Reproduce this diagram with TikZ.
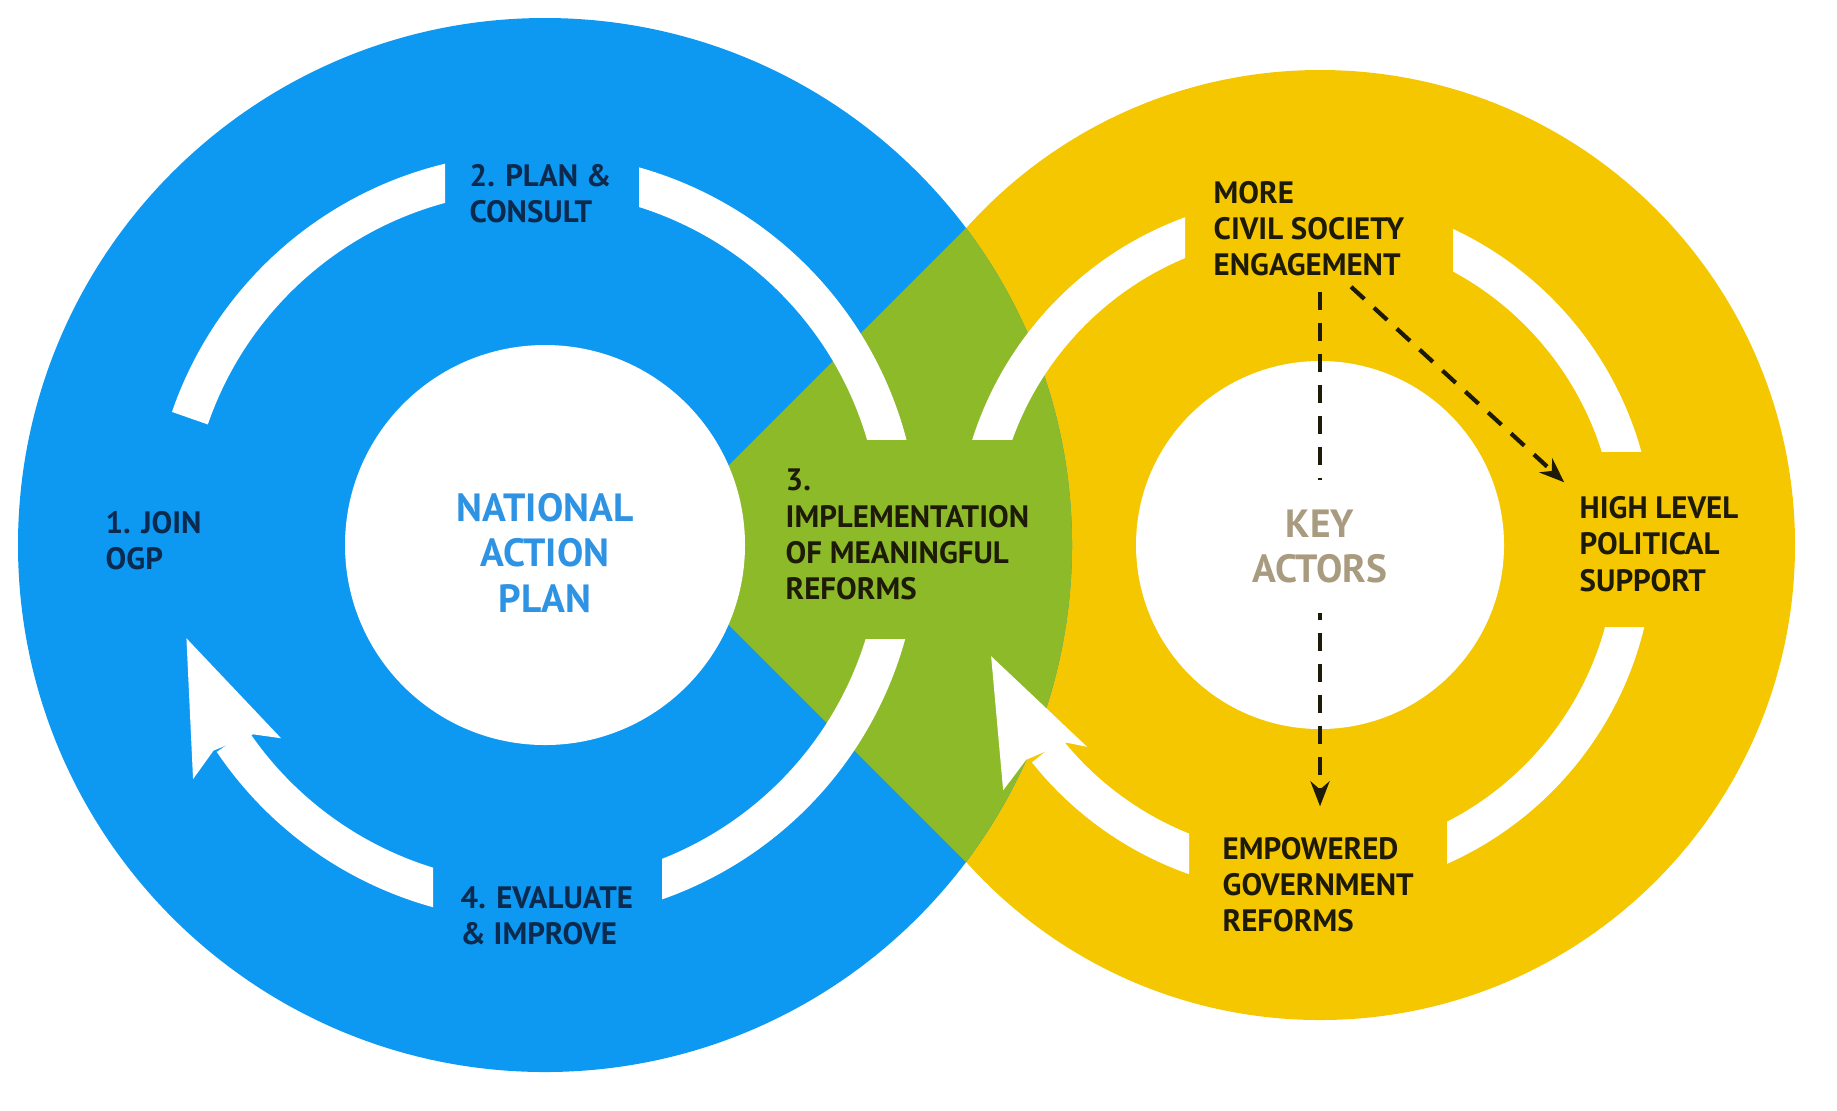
\documentclass[tikz,border=0pt]{standalone}
\usepackage{fontspec}
\setmainfont{PT Sans}
\usetikzlibrary{calc,arrows.meta}

\definecolor{ogpblue}{HTML}{0D98F2}
\definecolor{ogpgreen}{HTML}{8CBA28}
\definecolor{ogpyellow}{HTML}{F4C700}
\definecolor{labelnavy}{HTML}{0B2A4E}
\definecolor{labeldark}{HTML}{1E1A08}
\definecolor{titleblue}{HTML}{2F93E4}
\definecolor{titletan}{HTML}{A99B7F}

\tikzset{
	ringarc/.style={white, line width=3.8mm},
	ringhead/.style={fill=white},
	steplabel/.style={anchor=west, align=left, inner sep=0pt, text=labelnavy,
		font=\bfseries\fontsize{8.8}{10.3}\selectfont},
	actorlabel/.style={steplabel, text=labeldark},
	bigtitle/.style={align=center, inner sep=1mm, font=\bfseries\fontsize{11.2}{13}\selectfont},
	dasharrow/.style={labeldark, line width=1.2pt, dash pattern=on 1.8mm off 1.3mm,
		-{Stealth[length=2.5mm,width=1.9mm]}}
}

\begin{document}
\begin{tikzpicture}
		\useasboundingbox (0,0) rectangle (18.37,-11.10);
		
		% CENTRES
		\coordinate (bc) at (5.45,-5.45);
		\coordinate (yc) at (13.20,-5.45);
		\coordinate (bring) at (5.35,-5.37);
		\coordinate (yring) at (13.05,-5.45);
		
		% DRAW THE TWO DISCS
		\fill[ogpyellow] (yc) circle (4.75);
		\fill[ogpblue] (bc) circle (5.27);
		\begin{scope}
			\clip (bc) circle (5.27);
			\fill[ogpgreen] (9.66,-2.28) -- (6.49,-5.45) -- (9.66,-8.62) -- (11,-8.62) -- (11,-2.28) -- cycle;
		\end{scope}
		\fill[white] (bc) circle (2.0);
		\fill[white] (yc) circle (1.84);
		
		% BLUE CYCLE
		\begin{scope}
			\clip (0,0) rectangle (4.45,-11.1);
			\draw[ringarc, shift={(bring)}] (161:3.65) arc (161:95:3.65);
		\end{scope}
		\begin{scope}
			\clip (6.39,0) rectangle (18.37,-4.39);
			\draw[ringarc, shift={(bring)}] (85:3.65) arc (85:-10:3.65);
		\end{scope}
		\begin{scope}
			\clip (6.62,-6.39) rectangle (18.37,-11.1);
			\draw[ringarc, shift={(bring)}] (10:3.65) arc (10:-85:3.65);
		\end{scope}
		\begin{scope}
			\clip (0,0) rectangle (4.33,-11.1);
			\draw[ringarc, shift={(bring)}] (265:3.65) arc (265:214:3.65);
		\end{scope}
		\fill[ringhead, shift={(bring)}] (196.2:3.63) -- (215.3:4.19) -- (213.6:3.86) -- (215.0:3.44) -- (218.4:3.24) -- cycle;
		
		% YELLOW CYCLE
		\begin{scope}
			\clip (0,0) rectangle (11.85,-4.39);
			\draw[ringarc, shift={(yring)}] (175:3.30) arc (175:100:3.30);
		\end{scope}
		\begin{scope}
			\clip (14.53,0) rectangle (18.37,-4.51);
			\draw[ringarc, shift={(yring)}] (80:3.30) arc (80:5:3.30);
		\end{scope}
		\begin{scope}
			\clip (14.47,-6.27) rectangle (18.37,-11.1);
			\draw[ringarc, shift={(yring)}] (-5:3.30) arc (-5:-80:3.30);
		\end{scope}
		\begin{scope}
			\clip (0,0) rectangle (11.89,-11.1);
			\draw[ringarc, shift={(yring)}] (262:3.30) arc (262:218.5:3.30);
		\end{scope}
		\fill[ringhead, shift={(yring)}] (199.5:3.33) -- (219.1:3.89) -- (217.6:3.52) -- (219.6:3.10) -- (222.8:2.97) -- cycle;
		
		% LABELS
		\node[steplabel] (plan) at (4.69,-1.94) {2. PLAN \&\\CONSULT};
		\node[steplabel] (join) at (1.05,-5.41) {1. JOIN\\OGP};
		\node[steplabel] (evaluate) at (4.60,-9.155) {4. EVALUATE\\\& IMPROVE};
		\node[actorlabel] (implement) at (7.85,-5.345) {3.\\IMPLEMENTATION\\OF MEANINGFUL\\REFORMS};
		\node[bigtitle, text=titleblue] (nap) at (5.45,-5.53) {NATIONAL\\ACTION\\PLAN};
		
		\node[actorlabel] (civil) at (12.13,-2.285) {MORE\\CIVIL SOCIETY\\ENGAGEMENT};
		\node[actorlabel] (high) at (15.79,-5.44) {HIGH LEVEL\\POLITICAL\\SUPPORT};
		\node[actorlabel] (empower) at (12.22,-8.845) {EMPOWERED\\GOVERNMENT\\REFORMS};
		
		% DASHED LINKS
		\draw[dasharrow, shorten <=1.5mm, shorten >=3mm] (civil.south -| yc) -- (empower.north -| yc);
		\draw[dasharrow, shorten <=1.5mm, shorten >=2mm] ([xshift=2mm]civil.south -| yc) -- (high.north west);
		
		\node[bigtitle, text=titletan, fill=white, inner ysep=3mm] (key) at (13.20,-5.465) {KEY\\ACTORS};
	\end{tikzpicture}
\end{document}
